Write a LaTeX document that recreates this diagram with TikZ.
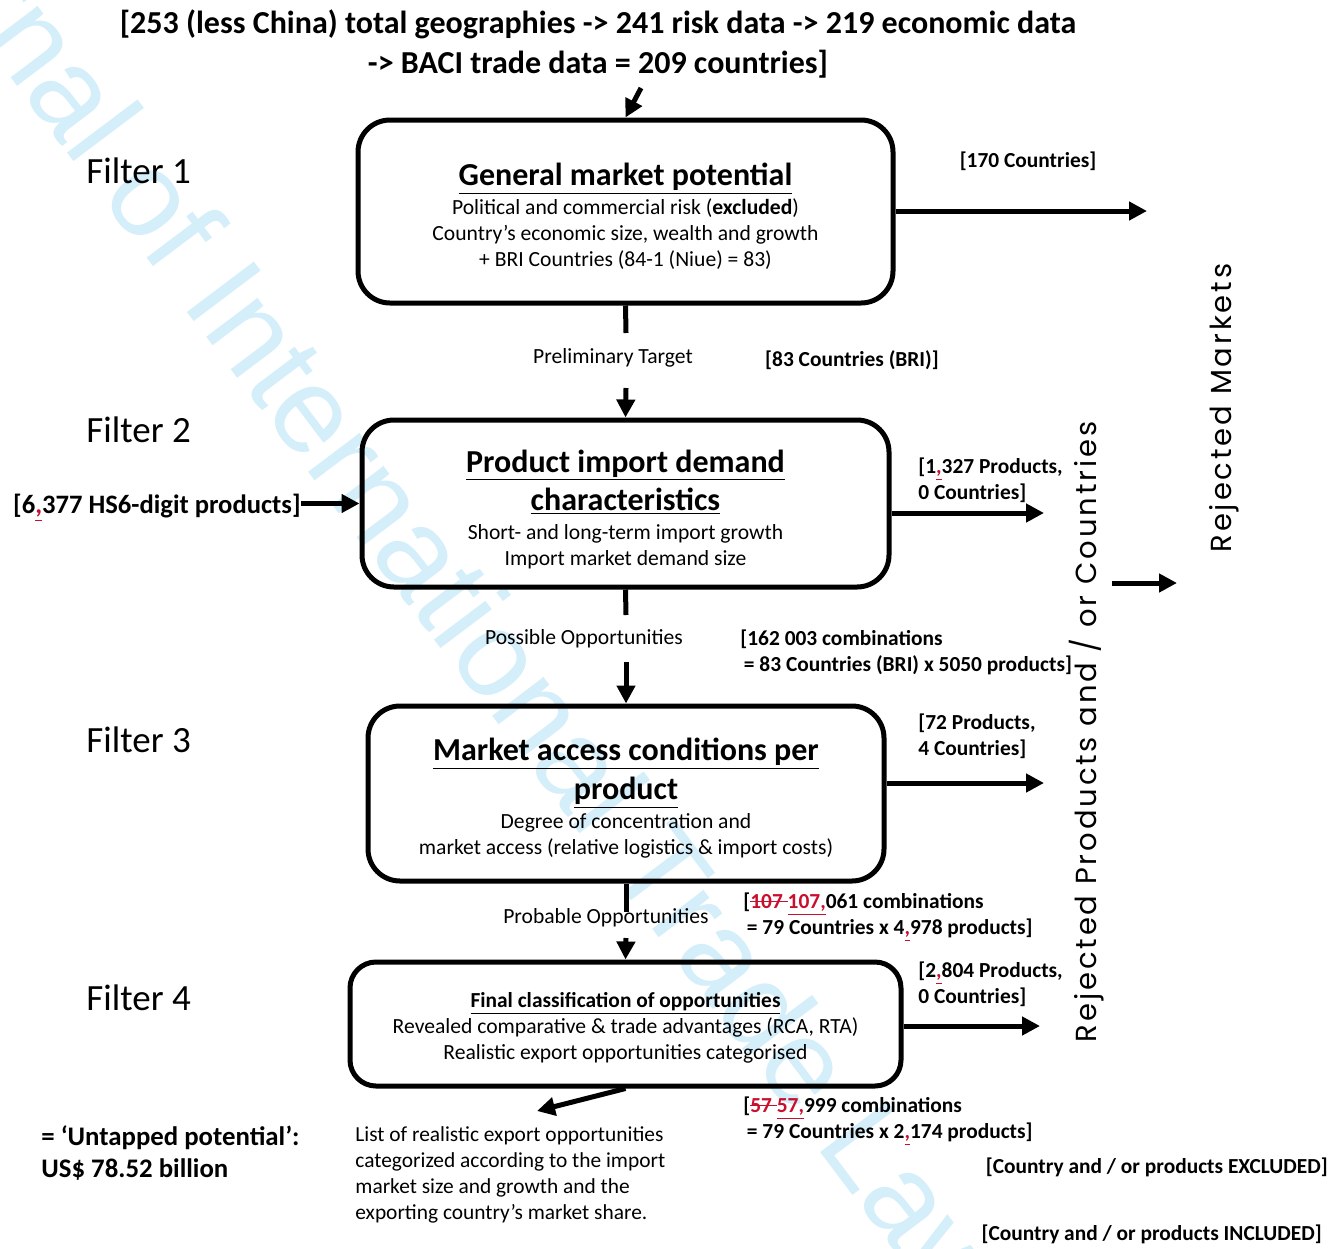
\documentclass[tikz,border=0pt]{standalone}
\usepackage{fontspec}
\setmainfont{Carlito}
\newfontfamily\gothicfont[LetterSpace=10]{Poppins}
\newfontfamily\wmfont{Liberation Sans}
\usetikzlibrary{arrows.meta,positioning}
\definecolor{trackred}{RGB}{200,16,46}
\definecolor{wmblue}{RGB}{212,238,250}
\newcommand{\trkins}[1]{\textcolor{trackred}{\underline{#1}}}
\newcommand{\trkdel}[1]{\textcolor{trackred}{\setbox0\hbox{#1}\rlap{\rule[0.28em]{\wd0}{0.07em}}\box0}}
\newcommand{\boxhead}[1]{{\fontsize{16}{19.5}\selectfont\bfseries\underline{#1}}}
\newcommand{\headstrut}{\rule{0pt}{16pt}}

\begin{document}
\begin{tikzpicture}[x=0.5pt,y=-0.5pt,
  filterbox/.style={draw,line width=2.5pt,rounded corners=16pt,inner sep=0pt,align=center,font=\fontsize{10.8}{13}\selectfont},
  flow/.style={line width=2.5pt,-{Triangle[length=9pt,width=9pt]}},
  stub/.style={line width=2.5pt},
  filterlabel/.style={anchor=west,inner sep=0pt,font=\fontsize{18.5}{21}\selectfont},
  sidenote/.style={anchor=west,align=left,inner sep=0pt,font=\fontsize{10.7}{13}\selectfont\bfseries},
  steptext/.style={inner sep=0pt,font=\fontsize{10.8}{12}\selectfont},
  sidetitle/.style={rotate=90,inner sep=0pt,font=\gothicfont\fontsize{14.5}{15}\selectfont}]
\useasboundingbox (0,0) rectangle (1343,1248);

% watermark
\begin{scope}
\clip (0,0) rectangle (1343,1248);
\node[wmblue,anchor=base west,rotate=-53,inner sep=0pt,font=\wmfont\fontsize{61}{64}\selectfont] (wm) at (-162,-151.7) {Journal of International Trade Law};
\end{scope}

% scope of the data
\node[align=center,font=\fontsize{16}{20}\selectfont\bfseries] (scope) at (598,44) {[253 (less China) total geographies -> 241 risk data -> 219 economic data\\ -> BACI trade data = 209 countries]};
\coordinate (topin) at (641,88);

% filter labels
\node[filterlabel] (f1) at (86,171) {Filter 1};
\node[filterlabel] (f2) at (86,430) {Filter 2};
\node[filterlabel] (f3) at (86,740) {Filter 3};
\node[filterlabel] (f4) at (86,998) {Filter 4};

% filter boxes
\node[filterbox,minimum width=267.5pt,minimum height=91.5pt] (gmp) at (625.5,211.5)
  {\headstrut\boxhead{General market potential}\\[1.5pt]
   Political and commercial risk (\textbf{excluded})\\
   Country's economic size, wealth and growth\\
   + BRI Countries (84-1 (Niue) = 83)};
\node[filterbox,minimum width=263.5pt,minimum height=83.5pt] (pid) at (625.5,503.5)
  {\rule{0pt}{17pt}\boxhead{Product import demand}\\[2.5pt] \boxhead{characteristics}\\[1.5pt]
   Short- and long-term import growth\\
   Import market demand size};
\node[filterbox,minimum width=258pt,minimum height=87.5pt] (mac) at (626,793.5)
  {\headstrut\boxhead{Market access conditions per}\\[2.5pt] \boxhead{product}\\[1.5pt]
   Degree of concentration and\\
   market access (relative logistics \& import costs)};
\node[filterbox,rounded corners=13pt,minimum width=275.5pt,minimum height=62pt] (fco) at (625.5,1024)
  {\rule{0pt}{11pt}{\fontsize{10.7}{13}\selectfont\bfseries\underline{Final classification of opportunities}}\\
   Revealed comparative \& trade advantages (RCA, RTA)\\
   Realistic export opportunities categorised};

% flow between the filters
\draw[flow] (topin) -- (gmp.north);
\coordinate (s1a) at (626,333);
\coordinate (s1b) at (626,388);
\node[steptext] (prelim) at (613,358) {Preliminary Target};
\draw[stub] (gmp.south) -- (s1a);
\draw[flow] (s1b) -- (pid.north);
\coordinate (s2a) at (626,615);
\coordinate (s2b) at (626,662);
\node[steptext] (possible) at (584,639) {Possible Opportunities};
\draw[stub] (pid.south) -- (s2a);
\draw[flow] (s2b) -- (mac.north);
\coordinate (s3a) at (626,912);
\coordinate (s3b) at (626,938);
\node[steptext] (probable) at (606,918) {Probable Opportunities};
\draw[stub] (mac.south) -- (s3a);
\draw[flow] (s3b) -- (fco.north);
\coordinate (outlist) at (537,1111);
\draw[flow] (fco.south) -- (outlist);

% products in
\node[sidenote,anchor=east,font=\fontsize{13.3}{15}\selectfont\bfseries] (hs6) at (301,508) {[6\trkins{,}377 HS6-digit products]};
\draw[flow] (hs6.east |- pid.west) -- (pid.west);

% rejected at each filter
\coordinate (r1) at (1147,211);
\coordinate (r2) at (1044,513);
\coordinate (r3) at (1044,783);
\coordinate (r4) at (1040,1026);
\draw[flow] (gmp.east |- r1) -- (r1);
\draw[flow] (pid.east |- r2) -- (r2);
\draw[flow] (mac.east |- r3) -- (r3);
\draw[flow] (fco.east |- r4) -- (r4);
\node[sidenote,anchor=center] (n170) at (1028,161) {[170 Countries]};
\node[sidenote,anchor=center] (n83) at (852,360) {[83 Countries (BRI)]};
\node[sidenote] (n1327) at (918,480) {[1\trkins{,}327 Products,\\0 Countries]};
\node[sidenote] (n72) at (918,736) {[72 Products,\\4 Countries]};
\node[sidenote] (n2804) at (918,984) {[2\trkins{,}804 Products,\\0 Countries]};

% remaining combinations
\node[sidenote] (c162) at (740,652) {[162 003 combinations\\ \,= 83 Countries (BRI) x 5050 products]};
\node[sidenote] (c107) at (743,917) {[\trkdel{107 }\trkins{107,}061 combinations\\ \,= 79 Countries x 4\trkins{,}978 products]};
\node[sidenote] (c57) at (743,1121) {[\trkdel{57 }\trkins{57,}999 combinations\\ \,= 79 Countries x 2\trkins{,}174 products]};

% result
\node[sidenote,font=\fontsize{13.4}{16}\selectfont\bfseries] (untapped) at (41,1153) {= `Untapped potential':\\US\$ 78.52 billion};
\node[anchor=west,align=left,inner sep=0pt,font=\fontsize{10.7}{13}\selectfont] (list) at (355,1175)
  {List of realistic export opportunities\\ categorized according to the import\\ market size and growth and the\\ exporting country's market share.};

% legend
\node[sidenote,anchor=east] (excl) at (1328,1167) {[Country and / or products EXCLUDED]};
\node[sidenote,anchor=east] (incl) at (1322,1234) {[Country and / or products INCLUDED]};

% rejected markets
\node[sidetitle] (rejprod) at (1087,732) {Rejected Products and / or Countries};
\node[sidetitle] (rejmkt) at (1224,408) {Rejected Markets};
\coordinate (mida) at (1112,583);
\coordinate (midb) at (1177,583);
\draw[flow] (mida) -- (midb);
\end{tikzpicture}
\end{document}
